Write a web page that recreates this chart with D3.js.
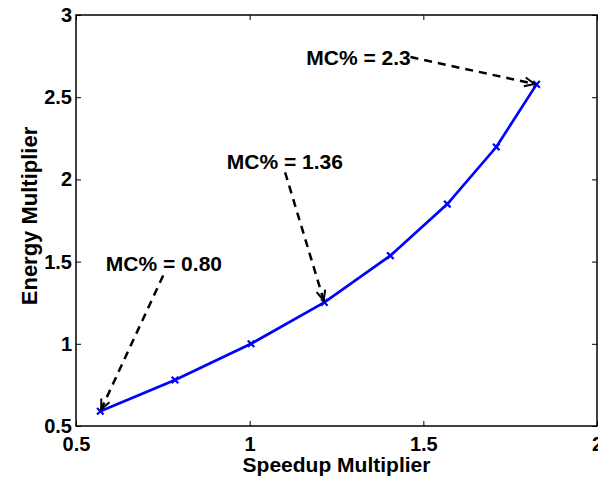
<!DOCTYPE html>
<html>
<head>
<meta charset="utf-8">
<script src="https://cdn.jsdelivr.net/npm/d3@7"></script>
<style>
  body { margin: 0; background: #fff; }
  text { font-family: "Liberation Sans", Arial, sans-serif; font-weight: bold; fill: #000; }
</style>
</head>
<body>
<svg id="svg1" width="598" height="480"></svg>
<script>
// data
const speedup = [0.570, 0.785, 1.004, 1.215, 1.405, 1.569, 1.710, 1.826];
const energy  = [0.59, 0.78, 1.00, 1.252, 1.536, 1.850, 2.197, 2.578];
const xTicks = [0.5, 1, 1.5, 2];
const yTicks = [0.5, 1, 1.5, 2, 2.5, 3];
const noteLabels = ['MC% = 0.80', 'MC% = 1.36', 'MC% = 2.3'];
const notePoint = [0, 3, 7];   // index of the point each note points at

const svg1 = d3.select('#svg1');
const width = +svg1.attr('width');
const height = +svg1.attr('height');

svg1.append('rect').attr('width', width).attr('height', height).attr('fill', '#fff');

const margin = { top: 15, right: 1, bottom: 54, left: 76 };

const xScale = d3.scaleLinear().domain([0.5, 2]).range([margin.left, width - margin.right]);
const yScale = d3.scaleLinear().domain([0.5, 3]).range([height - margin.bottom, margin.top]);

const g = svg1.append('g');

// axes, MATLAB style: ticks inside on all four sides
const xAxisG = g.append('g')
  .attr('transform', `translate(0,${yScale(0.5)})`)
  .call(d3.axisBottom(xScale).tickValues(xTicks).tickFormat(d3.format('')).tickSize(-5).tickPadding(11));
const yAxisG = g.append('g')
  .attr('transform', `translate(${xScale(0.5)},0)`)
  .call(d3.axisLeft(yScale).tickValues(yTicks).tickFormat(d3.format('')).tickSize(-5).tickPadding(4));
const xTopG = g.append('g')
  .attr('transform', `translate(0,${yScale(3)})`)
  .call(d3.axisTop(xScale).tickValues(xTicks).tickFormat('').tickSize(-5));
const yRightG = g.append('g')
  .attr('transform', `translate(${xScale(2)},0)`)
  .call(d3.axisRight(yScale).tickValues(yTicks).tickFormat('').tickSize(-5));

[xAxisG, yAxisG, xTopG, yRightG].forEach(a => {
  a.select('.domain').remove();
  a.selectAll('line').attr('stroke', '#000').attr('stroke-width', 1);
  a.selectAll('text').attr('font-size', 20).attr('font-family', null).attr('fill', '#000');
});

g.append('rect')
  .attr('x', xScale(0.5)).attr('y', yScale(3))
  .attr('width', xScale(2) - xScale(0.5))
  .attr('height', yScale(0.5) - yScale(3))
  .attr('fill', 'none').attr('stroke', '#000').attr('stroke-width', 1.5);

// axis labels
g.append('text')
  .attr('x', (xScale(0.5) + xScale(2)) / 2)
  .attr('y', 472)
  .attr('text-anchor', 'middle')
  .attr('font-size', 21)
  .text('Speedup Multiplier');

g.append('text')
  .attr('transform', `translate(37,216) rotate(-90)`)
  .attr('text-anchor', 'middle')
  .attr('font-size', 22)
  .text('Energy Multiplier');

// curve
const points = speedup.map((s, i) => ({ x: s, y: energy[i] }));

const lineGenerator = d3.line()
  .x(d => xScale(d.x))
  .y(d => yScale(d.y));

g.append('path')
  .attr('d', lineGenerator(points))
  .attr('fill', 'none')
  .attr('stroke', '#0000ff')
  .attr('stroke-width', 2.7);

g.selectAll('.mark').data(points)
  .enter().append('path')
  .attr('class', 'mark')
  .attr('transform', d => `translate(${xScale(d.x)},${yScale(d.y)})`)
  .attr('d', d3.symbol(d3.symbolX, 30))
  .attr('fill', 'none')
  .attr('stroke', '#0000ff')
  .attr('stroke-width', 2.2);

// annotations: text anchor and arrow tail, in data units
const noteText = [[0.586, 1.44], [0.934, 2.061], [1.163, 2.695]];
const noteTail = [[0.751, 1.415], [1.102, 2.043], [1.463, 2.744]];

noteLabels.forEach((label, i) => {
  const p = points[notePoint[i]];
  const tx = xScale(noteTail[i][0]), ty = yScale(noteTail[i][1]);
  const hx = xScale(p.x), hy = yScale(p.y);
  const ang = Math.atan2(hy - ty, hx - tx);
  const ex = hx - 2 * Math.cos(ang), ey = hy - 2 * Math.sin(ang);

  g.append('text')
    .attr('x', xScale(noteText[i][0]))
    .attr('y', yScale(noteText[i][1]))
    .attr('font-size', 21)
    .text(label);

  g.append('line')
    .attr('x1', tx).attr('y1', ty)
    .attr('x2', ex).attr('y2', ey)
    .attr('stroke', '#000')
    .attr('stroke-width', 2.5)
    .attr('stroke-dasharray', '8,6');

  const hl = 11, spread = 0.42;
  const head = d3.path();
  head.moveTo(ex - hl * Math.cos(ang - spread), ey - hl * Math.sin(ang - spread));
  head.lineTo(ex, ey);
  head.lineTo(ex - hl * Math.cos(ang + spread), ey - hl * Math.sin(ang + spread));
  g.append('path')
    .attr('d', head.toString())
    .attr('fill', 'none')
    .attr('stroke', '#000')
    .attr('stroke-width', 2);
});
</script>
</body>
</html>
